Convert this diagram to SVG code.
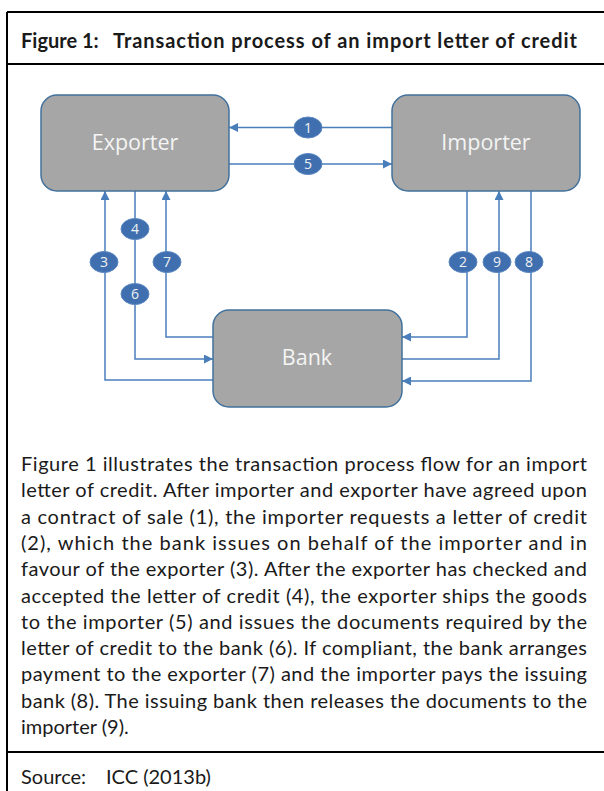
<svg xmlns="http://www.w3.org/2000/svg" width="604" height="791" viewBox="0 0 604 791">
<style>
.frame{stroke:#000;stroke-width:2;fill:none}
.title{font-family:Lato,"Open Sans",sans-serif;font-weight:bold;font-size:20px;fill:#1a1a1a}
.body{font-family:Lato,"Open Sans",sans-serif;font-size:20px;fill:#1a1a1a}
.box{fill:#A6A6A6;stroke:#41719C;stroke-width:1.5}
.boxtxt{font-family:"Open Sans","Noto Sans",sans-serif;font-size:21.5px;fill:#F4F4F4;text-anchor:middle}
.con{fill:none;stroke:#4A7EBB;stroke-width:1.5}
.badge{fill:#3F6FAE;stroke:#5B87C2;stroke-width:1}
.btxt{font-family:"Open Sans","Noto Sans",sans-serif;font-size:14px;fill:#F2F2F2;text-anchor:middle}
</style>
<defs>
<marker id="ah" markerUnits="userSpaceOnUse" markerWidth="9" markerHeight="9" refX="9" refY="4.5" orient="auto">
<path d="M0,0 L9,4.5 L0,9 z" fill="#4A7EBB"/>
</marker>
</defs>
<rect width="604" height="791" fill="#fff"/>
<g id="frame">
<path class="frame" d="M7,12 H604 M7,12 V791 M7,64 H604 M7,752 H604"/>
</g>
<g id="title">
<text class="title" x="21" y="48">Figure 1:</text>
<text class="title" x="113" y="48" textLength="464" lengthAdjust="spacing">Transaction process of an import letter of credit</text>
</g>
<g id="connectors">
<path class="con" d="M392,127.5 H229" marker-end="url(#ah)"/>
<path class="con" d="M229,164 H392" marker-end="url(#ah)"/>
<path class="con" d="M213,380 H105 V191" marker-end="url(#ah)"/>
<path class="con" d="M135,191 V359 H213" marker-end="url(#ah)"/>
<path class="con" d="M213,337 H166 V191" marker-end="url(#ah)"/>
<path class="con" d="M467,191 V337 H402" marker-end="url(#ah)"/>
<path class="con" d="M402,359 H499 V191" marker-end="url(#ah)"/>
<path class="con" d="M531,191 V381 H402" marker-end="url(#ah)"/>
</g>
<g id="exporter">
<rect class="box" x="41" y="95" width="188" height="96" rx="16"/>
<text class="boxtxt" x="135" y="150">Exporter</text>
</g>
<g id="importer">
<rect class="box" x="392" y="95" width="188" height="96" rx="16"/>
<text class="boxtxt" x="486" y="150">Importer</text>
</g>
<g id="bank">
<rect class="box" x="213" y="310" width="189" height="97" rx="16"/>
<text class="boxtxt" x="307" y="365">Bank</text>
</g>
<g id="badge1"><ellipse class="badge" cx="308" cy="127.5" rx="14" ry="10.5"/><text class="btxt" x="308" y="132.5">1</text></g>
<g id="badge5"><ellipse class="badge" cx="308" cy="164" rx="14" ry="10.5"/><text class="btxt" x="308" y="169">5</text></g>
<g id="badge3"><ellipse class="badge" cx="104" cy="262" rx="14" ry="10.5"/><text class="btxt" x="104" y="267">3</text></g>
<g id="badge4"><ellipse class="badge" cx="135" cy="229" rx="14" ry="10.5"/><text class="btxt" x="135" y="234">4</text></g>
<g id="badge6"><ellipse class="badge" cx="135" cy="294" rx="14" ry="10.5"/><text class="btxt" x="135" y="299">6</text></g>
<g id="badge7"><ellipse class="badge" cx="167" cy="262" rx="14" ry="10.5"/><text class="btxt" x="167" y="267">7</text></g>
<g id="badge2"><ellipse class="badge" cx="463" cy="262" rx="14" ry="10.5"/><text class="btxt" x="463" y="267">2</text></g>
<g id="badge9"><ellipse class="badge" cx="497" cy="262" rx="14" ry="10.5"/><text class="btxt" x="497" y="267">9</text></g>
<g id="badge8"><ellipse class="badge" cx="529" cy="262" rx="14" ry="10.5"/><text class="btxt" x="529" y="267">8</text></g>
<g id="paragraph" class="body">
<text x="21" y="471" textLength="566" lengthAdjust="spacing">Figure 1 illustrates the transaction process flow for an import</text>
<text x="21" y="497.3" textLength="566" lengthAdjust="spacing">letter of credit. After importer and exporter have agreed upon</text>
<text x="21" y="523.6" textLength="566" lengthAdjust="spacing">a contract of sale (1), the importer requests a letter of credit</text>
<text x="21" y="549.9" textLength="566" lengthAdjust="spacing">(2), which the bank issues on behalf of the importer and in</text>
<text x="21" y="576.2" textLength="566" lengthAdjust="spacing">favour of the exporter (3). After the exporter has checked and</text>
<text x="21" y="602.5" textLength="566" lengthAdjust="spacing">accepted the letter of credit (4), the exporter ships the goods</text>
<text x="21" y="628.8" textLength="566" lengthAdjust="spacing">to the importer (5) and issues the documents required by the</text>
<text x="21" y="655.1" textLength="566" lengthAdjust="spacing">letter of credit to the bank (6). If compliant, the bank arranges</text>
<text x="21" y="681.4" textLength="566" lengthAdjust="spacing">payment to the exporter (7) and the importer pays the issuing</text>
<text x="21" y="707.7" textLength="566" lengthAdjust="spacing">bank (8). The issuing bank then releases the documents to the</text>
<text x="21" y="734">importer (9).</text>
</g>
<g id="source" class="body">
<text x="21" y="784">Source:</text>
<text x="106" y="784">ICC (2013b)</text>
</g>
</svg>
